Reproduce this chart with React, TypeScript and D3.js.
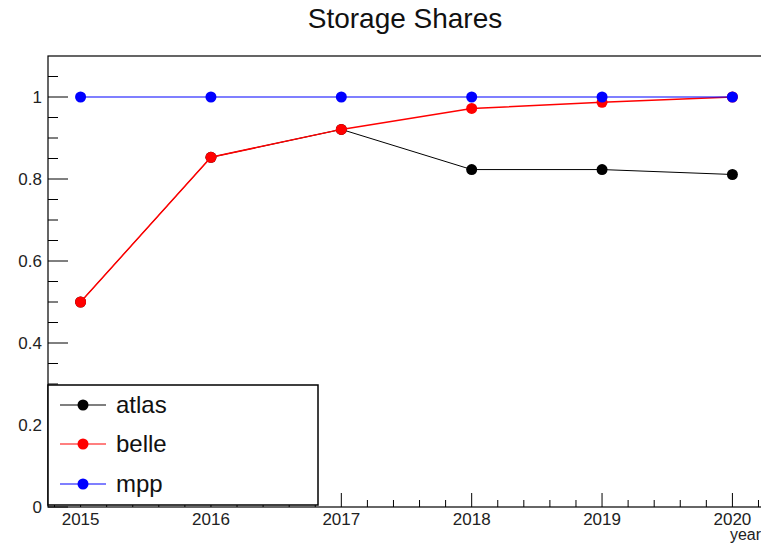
import { useEffect, useRef } from "react";
import * as d3 from "d3";

const years = [2015, 2016, 2017, 2018, 2019, 2020];
const atlas = [0.5, 0.853, 0.921, 0.823, 0.823, 0.811];
const belle = [0.5, 0.853, 0.921, 0.972, 0.987, 1.0];
const mpp = [1, 1, 1, 1, 1, 1];
const seriesNames = ["atlas", "belle", "mpp"];
const seriesColors = ["#000000", "#ff0000", "#0000ff"];
const seriesWidths = [1, 1.5, 1.2];
const yTicks = [0, 0.2, 0.4, 0.6, 0.8, 1];

export default function App() {
  const svgRef = useRef<SVGSVGElement | null>(null);

  useEffect(() => {
    const svg = d3.select(svgRef.current);
    const width = 761;
    const height = 545;
    const margin = { top: 56, right: -4, bottom: 38, left: 48 };
    const font = "'Liberation Sans', Arial, Helvetica, sans-serif";

    svg.selectAll("*").remove();
    svg.attr("width", width).attr("height", height);

    const x = d3.scaleLinear()
      .domain([2014.75, 2020.25])
      .range([margin.left, width - margin.right]);
    const y = d3.scaleLinear()
      .domain([0, 1.1])
      .range([height - margin.bottom, margin.top]);

    const y0 = y(0);

    // frame
    svg.append("rect")
      .attr("x", margin.left)
      .attr("y", margin.top)
      .attr("width", x(2020.25) - margin.left)
      .attr("height", y0 - margin.top)
      .attr("fill", "none")
      .attr("stroke", "#000")
      .attr("stroke-width", 1.2);

    // x ticks
    const xMinor = d3.range(2014.8, 2020.25, 0.2).map((v) => Math.round(v * 10) / 10);
    svg.append("g")
      .selectAll("line")
      .data(xMinor)
      .join("line")
      .attr("x1", (d) => x(d))
      .attr("x2", (d) => x(d))
      .attr("y1", y0)
      .attr("y2", (d) => (Number.isInteger(d) ? y0 - 14 : y0 - 7))
      .attr("stroke", "#000");

    svg.append("g")
      .selectAll("text")
      .data(years)
      .join("text")
      .attr("x", (d) => x(d))
      .attr("y", y0 + 18)
      .attr("text-anchor", "middle")
      .attr("font-family", font)
      .attr("font-size", 17)
      .attr("fill", "#222")
      .text((d) => d);

    svg.append("text")
      .attr("x", 761)
      .attr("y", 540)
      .attr("text-anchor", "end")
      .attr("font-family", font)
      .attr("font-size", 16)
      .attr("fill", "#222")
      .text("year");

    // y ticks
    const yMinor = d3.range(0, 1.1, 0.05).map((v) => Math.round(v * 100) / 100);
    svg.append("g")
      .selectAll("line")
      .data(yMinor)
      .join("line")
      .attr("x1", margin.left)
      .attr("x2", (d) => (Math.round(d * 100) % 20 === 0 ? margin.left + 20 : margin.left + 10))
      .attr("y1", (d) => y(d))
      .attr("y2", (d) => y(d))
      .attr("stroke", "#000");

    svg.append("g")
      .selectAll("text")
      .data(yTicks)
      .join("text")
      .attr("x", 42)
      .attr("y", (d) => y(d) + 6)
      .attr("text-anchor", "end")
      .attr("font-family", font)
      .attr("font-size", 17)
      .attr("fill", "#222")
      .text((d) => String(d));

    // series
    const allSeries = [atlas, belle, mpp];
    const line = d3.line<number>()
      .x((_, i) => x(years[i]))
      .y((d) => y(d));

    allSeries.forEach((vals, k) => {
      svg.append("path")
        .datum(vals)
        .attr("d", line)
        .attr("fill", "none")
        .attr("stroke", seriesColors[k])
        .attr("stroke-width", seriesWidths[k]);
      svg.append("g")
        .selectAll("circle")
        .data(vals)
        .join("circle")
        .attr("cx", (_, i) => x(years[i]))
        .attr("cy", (d) => y(d))
        .attr("r", 5.5)
        .attr("fill", seriesColors[k]);
    });

    // legend
    const lg = svg.append("g");
    lg.append("rect")
      .attr("x", 48)
      .attr("y", 385)
      .attr("width", 270)
      .attr("height", 120)
      .attr("fill", "#fff")
      .attr("stroke", "#000")
      .attr("stroke-width", 1.5);
    const rowY = [405, 444, 484];
    seriesNames.forEach((name, k) => {
      lg.append("line")
        .attr("x1", 60)
        .attr("x2", 106)
        .attr("y1", rowY[k])
        .attr("y2", rowY[k])
        .attr("stroke", seriesColors[k])
        .attr("stroke-width", 1.2);
      lg.append("circle")
        .attr("cx", 83)
        .attr("cy", rowY[k])
        .attr("r", 5.5)
        .attr("fill", seriesColors[k]);
      lg.append("text")
        .attr("x", 116)
        .attr("y", rowY[k] + 8)
        .attr("font-family", font)
        .attr("font-size", 24)
        .attr("fill", "#111")
        .text(name);
    });

    // title
    svg.append("text")
      .attr("x", 405)
      .attr("y", 28)
      .attr("text-anchor", "middle")
      .attr("font-family", font)
      .attr("font-size", 28)
      .attr("fill", "#111")
      .text("Storage Shares");
  }, []);

  return (
    <div>
      <svg ref={svgRef} style={{ position: "absolute", left: 0, top: 0, background: "#fff" }} />
    </div>
  );
}
